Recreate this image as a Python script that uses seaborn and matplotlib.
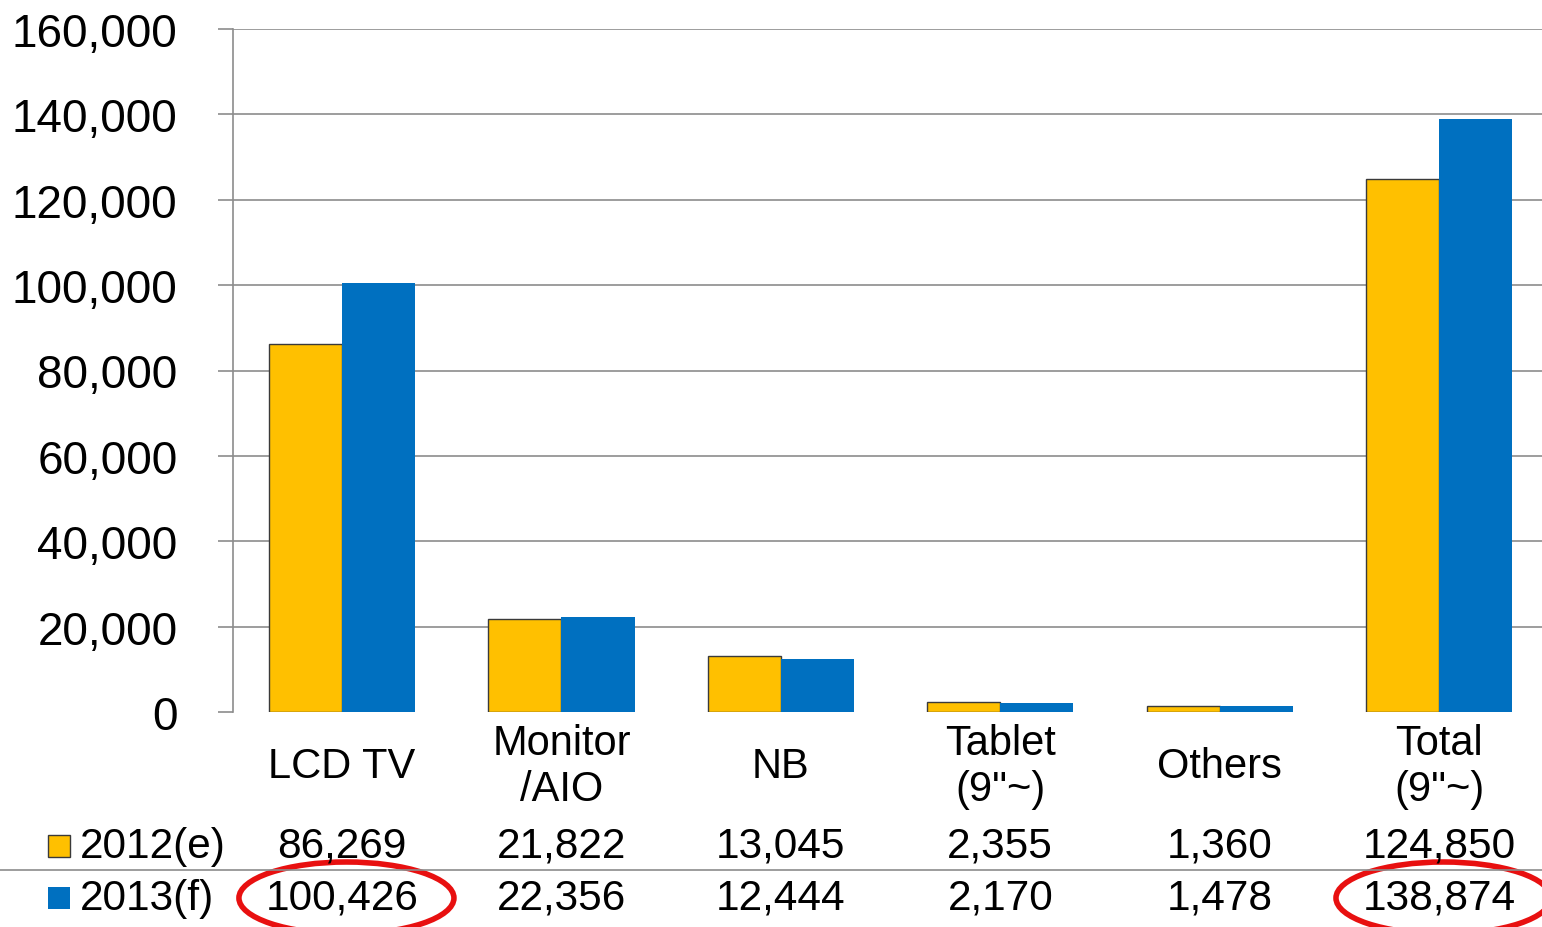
import matplotlib
matplotlib.use("Agg")
import matplotlib.pyplot as plt
import seaborn as sns
import pandas as pd
from matplotlib.patches import Rectangle, Ellipse
from matplotlib.ticker import FuncFormatter
from matplotlib.transforms import blended_transform_factory

categories = ["LCD TV", "Monitor\n/AIO", "NB", "Tablet\n(9\"~)", "Others", "Total\n(9\"~)"]
series_names = ["2012(e)", "2013(f)"]
values_2012 = [86269, 21822, 13045, 2355, 1360, 124850]
values_2013 = [100426, 22356, 12444, 2170, 1478, 138874]
colors = ["#FFC000", "#0070C0"]
circled = [0, 5]
y_ticks = [0, 20000, 40000, 60000, 80000, 100000, 120000, 140000, 160000]

sns.set_theme(style="white")
plt.rcParams["font.family"] = ["Liberation Sans", "DejaVu Sans"]

df = pd.DataFrame({
    "category": categories * 2,
    "series": [series_names[0]] * len(categories) + [series_names[1]] * len(categories),
    "value": values_2012 + values_2013,
})

W, H = 1542, 928
fig = plt.figure(figsize=(W / 100, H / 100), dpi=100)
ax = fig.add_axes([233 / W, 1 - 713 / H, (1542 - 233) / W, (713 - 30) / H])

grid_c = "#8c8c8c"
# gridlines (none at zero, as in the reference)
ax.hlines(y_ticks[1:], -0.6, 6.0, colors=grid_c, linewidth=1.2, zorder=0)

sns.barplot(data=df, x="category", y="value", hue="series", palette=colors,
            order=categories, hue_order=series_names, width=0.667, gap=0,
            saturation=1, errorbar=None, legend=False, ax=ax, zorder=2)

for i, cont in enumerate(ax.containers):
    for p in cont.patches:
        if i == 0:
            p.set_edgecolor("#3a3a3a")
            p.set_linewidth(1.0)
        else:
            p.set_edgecolor("none")

ax.set_xlim(-0.497, 5.469)
ax.set_ylim(0, 160000)
ax.set_yticks(y_ticks)
ax.yaxis.set_major_formatter(FuncFormatter(lambda v, p: f"{int(v):,}"))
ax.grid(False)
for s in ["top", "right", "bottom"]:
    ax.spines[s].set_visible(False)
ax.spines["left"].set_color(grid_c)
ax.spines["left"].set_linewidth(1.2)
ax.tick_params(axis="y", left=True, length=11, width=1.2, color=grid_c,
               pad=29, labelsize=33, labelcolor="black")
ax.set_xticks(range(len(categories)))
ax.set_xticklabels([])
ax.tick_params(axis="x", bottom=False)
ax.set_xlabel("")
ax.set_ylabel("")

# category labels
trans = blended_transform_factory(ax.transData, fig.transFigure)
for i, c in enumerate(categories):
    ax.text(i, 1 - 767 / H, c, transform=trans, ha="center", va="center",
            fontsize=30, linespacing=1.2, multialignment="center", color="black")

# data table
row_y = [1 - 847 / H, 1 - 899 / H]
for r, vals in enumerate([values_2012, values_2013]):
    for i, v in enumerate(vals):
        ax.text(i, row_y[r], f"{v:,}", transform=trans, ha="center", va="center",
                fontsize=30.5, color="black")
    # legend key
    fig.patches.append(Rectangle((48 / W, row_y[r] - 11 / H), 22 / W, 22 / H,
                                 transform=fig.transFigure, facecolor=colors[r],
                                 edgecolor="#3a3a3a" if r == 0 else "none",
                                 linewidth=1.0))
    fig.text(80 / W, row_y[r], series_names[r], ha="left", va="center",
             fontsize=30.5, color="black")

# separator line
fig.add_artist(plt.Line2D([0, 1], [1 - 871 / H, 1 - 871 / H],
                          transform=fig.transFigure, color=grid_c, linewidth=1.2))

# red ellipses
for i in circled:
    e = Ellipse((i + 0.02, 1 - 899 / H), width=0.98, height=72 / H, transform=trans,
                facecolor="none", edgecolor="#e81010", linewidth=4, clip_on=False)
    ax.add_artist(e)

fig.savefig("out.png", dpi=100)
